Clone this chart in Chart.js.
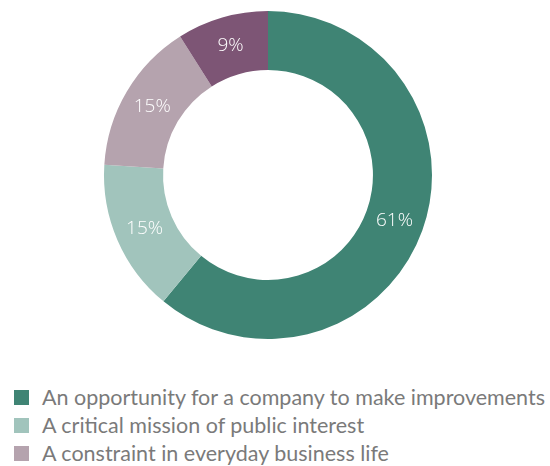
<!DOCTYPE html>
<html lang="en">
<head>
    <meta charset="UTF-8">
    <title>Donut</title>
    <script src="https://cdn.jsdelivr.net/npm/chart.js@4"></script>
    <style>
        html, body { margin: 0; padding: 0; background: #fff; overflow: hidden; }
        #wrap { position: relative; width: 550px; height: 349px; }
        #legend { list-style: none; margin: 0; padding: 0; position: absolute; left: 14px; top: 383px;
                  font-family: Lato, sans-serif; font-size: 21.5px; color: #7a7a7a; }
        #legend li { height: 28px; line-height: 28px; white-space: nowrap; }
        #legend span { display: inline-block; width: 15px; height: 15px; margin-right: 13px; vertical-align: 0px; }
    </style>
</head>
<body>
    <div id="wrap"><canvas id="chart"></canvas></div>
    <ul id="legend"></ul>

    <script>
        const labels = [
            'An opportunity for a company to make improvements',
            'A critical mission of public interest',
            'A constraint in everyday business life',
            'An unnecessary administrative burden'
        ];
        const values = [61, 15, 15, 9];
        const colors = ['#3f8474', '#a1c4bc', '#b5a3ae', '#7d5575'];

        // white percentage labels in the middle of each ring segment
        const sliceLabels = {
            id: 'sliceLabels',
            afterDatasetsDraw(chart) {
                const ctx = chart.ctx;
                ctx.save();
                ctx.fillStyle = '#ffffff';
                ctx.font = '300 19px "Open Sans", sans-serif';
                ctx.textAlign = 'center';
                ctx.textBaseline = 'middle';
                chart.getDatasetMeta(0).data.forEach((arc, i) => {
                    const p = arc.tooltipPosition();
                    ctx.fillText(values[i] + '%', p.x, p.y);
                });
                ctx.restore();
            }
        };

        new Chart(document.getElementById('chart'), {
            type: 'doughnut',
            data: {
                labels: labels,
                datasets: [{
                    data: values,
                    backgroundColor: colors,
                    borderWidth: 0
                }]
            },
            options: {
                responsive: true,
                maintainAspectRatio: false,
                animation: false,
                cutout: '64%',
                layout: { padding: { left: 0, right: 14, top: 11, bottom: 10 } },
                plugins: {
                    legend: { display: false },
                    tooltip: { enabled: false }
                }
            },
            plugins: [sliceLabels]
        });

        const legend = document.getElementById('legend');
        labels.forEach((l, i) => {
            const li = document.createElement('li');
            li.innerHTML = '<span style="background:' + colors[i] + '"></span>' + l;
            legend.appendChild(li);
        });
    </script>
</body>
</html>
